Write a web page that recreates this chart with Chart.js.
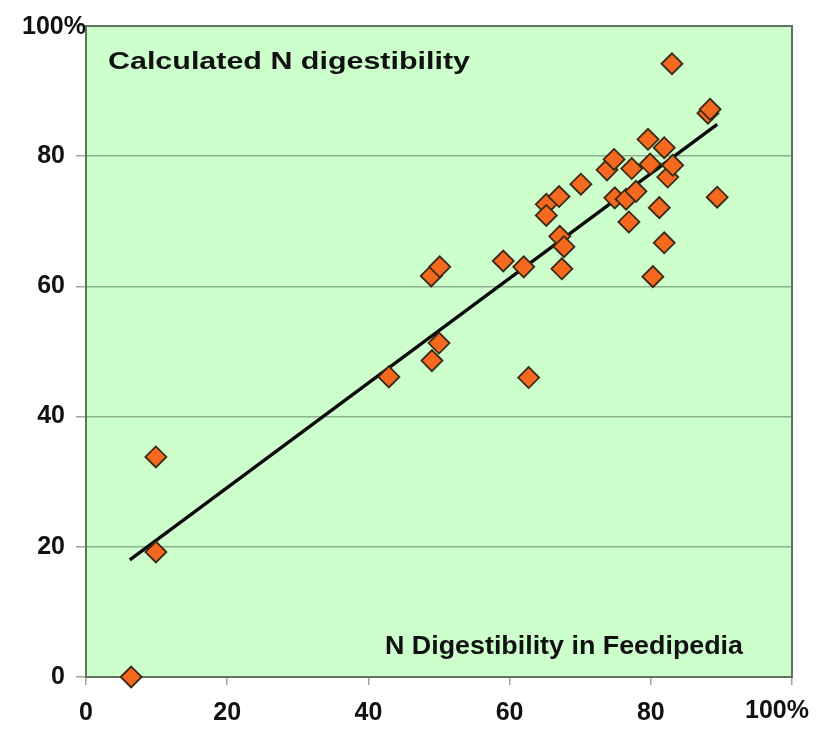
<!DOCTYPE html>
<html>
<head>
<meta charset="utf-8">
<script src="https://cdn.jsdelivr.net/npm/chart.js@4/dist/chart.umd.min.js"></script>
<style>
  html, body { margin: 0; padding: 0; background: #ffffff; }
  #wrap { position: relative; width: 825px; height: 729px; }
</style>
</head>
<body>
<div id="wrap"><canvas id="c" width="825" height="729"></canvas></div>
<script>
// Data
const feedipediaN = [6.4, 9.9, 9.9, 42.9, 49.0, 50.0, 48.9, 50.1, 59.1, 62.0, 62.7, 65.2, 65.2, 67.0, 67.1, 67.7, 67.4, 70.1, 73.8, 74.8, 74.9, 76.5, 76.9, 77.3, 77.9, 79.6, 79.9, 80.3, 81.2, 81.9, 81.9, 82.4, 83.1, 83.0, 88.1, 88.4, 89.4];
const calculatedN = [0.0, 33.8, 19.2, 46.1, 48.6, 51.3, 61.6, 63.0, 63.9, 63.0, 46.0, 72.6, 70.9, 73.8, 67.7, 66.1, 62.7, 75.7, 77.9, 79.5, 73.6, 73.4, 69.9, 78.1, 74.6, 82.6, 78.8, 61.5, 72.1, 81.3, 66.7, 76.8, 78.6, 94.2, 86.6, 87.2, 73.7];
const trendX = [6.2, 89.4];
const trendY = [18.0, 84.9];
const xTickLabels = ['0', '20', '40', '60', '80', '100%'];
const yTickLabels = ['0', '20', '40', '60', '80', '100%'];
const chartTitle = 'Calculated N digestibility';
const xAxisTitle = 'N Digestibility in Feedipedia';

const FONT = '"Liberation Sans", Arial, sans-serif';

const scatterPoints = feedipediaN.map((x, i) => ({ x: x, y: calculatedN[i] }));
const trendPoints = trendX.map((x, i) => ({ x: x, y: trendY[i] }));

const decorPlugin = {
  id: 'decor',
  beforeDraw(chart) {
    const { ctx, chartArea: a } = chart;
    ctx.save();
    ctx.fillStyle = '#CCFFCC';
    ctx.fillRect(a.left, a.top, a.right - a.left, a.bottom - a.top);
    ctx.restore();
  },
  beforeDatasetsDraw(chart) {
    const { ctx, chartArea: a } = chart;
    ctx.save();
    ctx.strokeStyle = '#5F735F';
    ctx.lineWidth = 2;
    ctx.strokeRect(a.left, a.top, a.right - a.left, a.bottom - a.top);
    ctx.restore();
  },
  afterDatasetsDraw(chart) {
    const { ctx, chartArea: a } = chart;
    ctx.save();
    // corner "100%" labels
    ctx.fillStyle = '#111111';
    ctx.font = 'bold 25px ' + FONT;
    ctx.textBaseline = 'middle';
    ctx.textAlign = 'right';
    const ys = chart.scales.y, xs = chart.scales.x;
    ctx.fillText(yTickLabels[5], a.left, ys.getPixelForValue(100) + 1);
    ctx.textAlign = 'center';
    ctx.fillText(xTickLabels[5], xs.getPixelForValue(100) - 15, 711);
    // titles inside plot
    ctx.textAlign = 'left';
    ctx.textBaseline = 'alphabetic';
    ctx.save();
    ctx.font = 'bold 24px ' + FONT;
    const w1 = ctx.measureText(chartTitle).width;
    ctx.translate(108, 69);
    ctx.scale(362 / w1, 1);
    ctx.fillText(chartTitle, 0, 0);
    ctx.restore();
    ctx.save();
    ctx.font = 'bold 25px ' + FONT;
    const w2 = ctx.measureText(xAxisTitle).width;
    ctx.translate(385, 654);
    ctx.scale(358 / w2, 1);
    ctx.fillText(xAxisTitle, 0, 0);
    ctx.restore();
    ctx.restore();
  }
};

new Chart(document.getElementById('c'), {
  type: 'scatter',
  data: {
    datasets: [
      {
        label: 'Calculated N digestibility',
        data: scatterPoints,
        clip: false,
        pointStyle: 'rectRot',
        pointRadius: 10.5,
        pointHoverRadius: 10.5,
        pointBackgroundColor: '#F4691E',
        pointBorderColor: '#3A2A14',
        pointBorderWidth: 1.8,
        order: 0
      },
      {
        type: 'line',
        label: 'Trend',
        data: trendPoints,
        borderColor: '#0A0A0A',
        borderWidth: 3.3,
        pointRadius: 0,
        fill: false,
        order: 1
      }
    ]
  },
  options: {
    responsive: false,
    animation: false,
    events: [],
    layout: { padding: { left: 0, right: 33, top: 20, bottom: 0 } },
    plugins: { legend: { display: false }, tooltip: { enabled: false } },
    scales: {
      x: {
        type: 'linear',
        min: 0, max: 100,
        afterFit(s) { s.height = 52; },
        border: { display: true, color: '#5F735F', width: 2 },
        grid: { drawOnChartArea: false, drawTicks: true, tickLength: 8, tickColor: '#9AA89A', lineWidth: 1.5 },
        ticks: {
          stepSize: 20,
          padding: 13,
          color: '#111111',
          font: { family: FONT, size: 25, weight: 'bold' },
          callback(v) { const i = Math.round(v / 20); return i < 5 ? xTickLabels[i] : ''; }
        }
      },
      y: {
        type: 'linear',
        min: 0, max: 100,
        afterFit(s) { s.width = 86; },
        border: { display: true, color: '#5F735F', width: 2 },
        grid: { drawOnChartArea: true, drawTicks: true, tickLength: 10, color: '#8DB08D', tickColor: '#9AA89A', lineWidth: 1.5 },
        ticks: {
          stepSize: 20,
          padding: 11,
          color: '#111111',
          font: { family: FONT, size: 25, weight: 'bold' },
          callback(v) { const i = Math.round(v / 20); return i < 5 ? yTickLabels[i] : ''; }
        }
      }
    }
  },
  plugins: [decorPlugin]
});
</script>
</body>
</html>
